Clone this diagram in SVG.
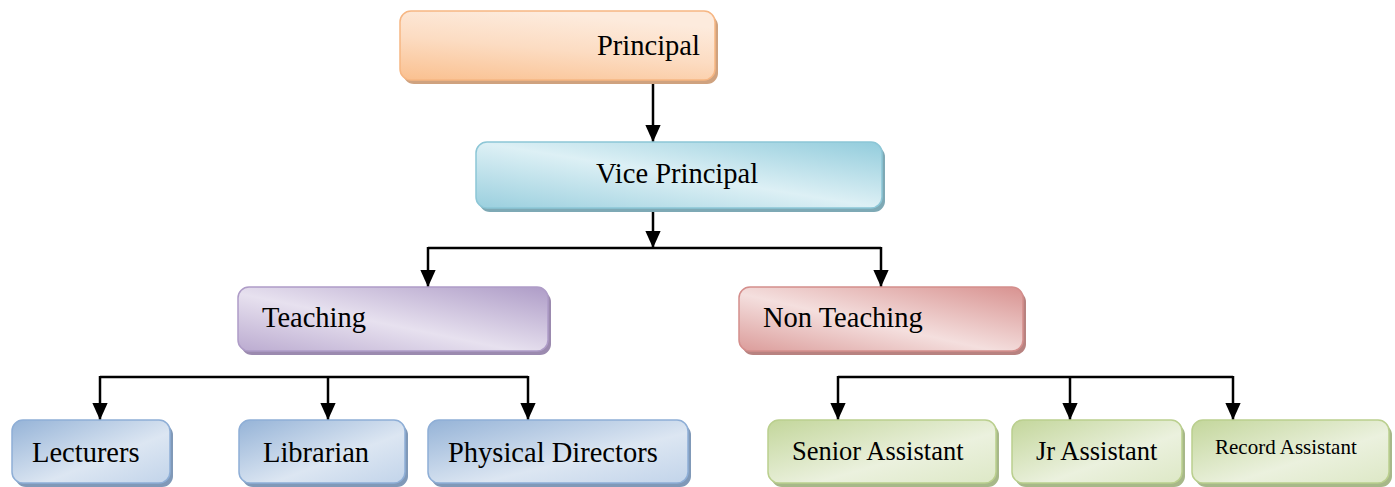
<svg xmlns="http://www.w3.org/2000/svg" width="1395" height="487" viewBox="0 0 1395 487">
  <style>
    text { font-family: "Liberation Serif", "Times New Roman", serif; fill: #000; }
    .lbl { font-size: 28.5px; }
    .sm { font-size: 26.5px; }
    .xs { font-size: 21px; }
    .conn { stroke: #000; stroke-width: 2.5; fill: none; }
    .box { stroke-width: 1.5; }
    .orange { fill: url(#gOrange); stroke: #F6B683; }
    .cyan { fill: url(#gCyan); stroke: #8CC6D6; }
    .purple { fill: url(#gPurple); stroke: #AE9CC7; }
    .red { fill: url(#gRed); stroke: #D48E8C; }
    .blue { fill: url(#gBlue); stroke: #8EAED6; }
    .green { fill: url(#gGreen); stroke: #BACF8E; }
  </style>
  <defs>
    <linearGradient id="gOrange" x1="0" y1="1" x2="0.4" y2="0">
      <stop offset="0" stop-color="#FAC08F"/>
      <stop offset="0.55" stop-color="#FCDCC2"/>
      <stop offset="1" stop-color="#FDEBDD"/>
    </linearGradient>
    <linearGradient id="gCyan" x1="0" y1="1" x2="1" y2="0">
      <stop offset="0" stop-color="#9ACFDE"/>
      <stop offset="0.5" stop-color="#DDF0F5"/>
      <stop offset="1" stop-color="#92CCDC"/>
    </linearGradient>
    <linearGradient id="gPurple" x1="0" y1="1" x2="1" y2="0">
      <stop offset="0" stop-color="#BBABD0"/>
      <stop offset="0.45" stop-color="#E7E1EF"/>
      <stop offset="1" stop-color="#AE9CC7"/>
    </linearGradient>
    <linearGradient id="gRed" x1="0" y1="1" x2="1" y2="0">
      <stop offset="0" stop-color="#DB9C9A"/>
      <stop offset="0.45" stop-color="#F4DFDE"/>
      <stop offset="1" stop-color="#D89290"/>
    </linearGradient>
    <linearGradient id="gBlue" x1="0" y1="0" x2="1" y2="1">
      <stop offset="0" stop-color="#95B3D7"/>
      <stop offset="0.6" stop-color="#DCE6F2"/>
      <stop offset="1" stop-color="#C2D4EA"/>
    </linearGradient>
    <linearGradient id="gGreen" x1="0" y1="0" x2="1" y2="1">
      <stop offset="0" stop-color="#C3D69B"/>
      <stop offset="0.6" stop-color="#EBF1DE"/>
      <stop offset="1" stop-color="#DDE8C6"/>
    </linearGradient>
    <marker id="arrow" viewBox="0 0 10 10" refX="10" refY="5" markerWidth="17" markerHeight="17" markerUnits="userSpaceOnUse" orient="auto">
      <path d="M0,0.5 L10,5 L0,9.5 z" fill="#000"/>
    </marker>
  </defs>

  <!-- connectors: trunk lines and branch drops -->
  <g id="connectors">
    <line class="conn" x1="653" y1="80" x2="653" y2="142" marker-end="url(#arrow)"/>
    <line class="conn" x1="653" y1="208" x2="653" y2="248" marker-end="url(#arrow)"/>

    <polyline class="conn" points="428,248 881,248"/>
    <line class="conn" x1="428" y1="247" x2="428" y2="287" marker-end="url(#arrow)"/>
    <line class="conn" x1="881" y1="247" x2="881" y2="287" marker-end="url(#arrow)"/>

    <polyline class="conn" points="100,377 528,377"/>
    <line class="conn" x1="100" y1="376" x2="100" y2="420" marker-end="url(#arrow)"/>
    <line class="conn" x1="328" y1="376" x2="328" y2="420" marker-end="url(#arrow)"/>
    <line class="conn" x1="528" y1="376" x2="528" y2="420" marker-end="url(#arrow)"/>

    <polyline class="conn" points="838,377 1233,377"/>
    <line class="conn" x1="838" y1="376" x2="838" y2="420" marker-end="url(#arrow)"/>
    <line class="conn" x1="1070" y1="376" x2="1070" y2="420" marker-end="url(#arrow)"/>
    <line class="conn" x1="1233" y1="376" x2="1233" y2="420" marker-end="url(#arrow)"/>
  </g>

  <g id="principal">
    <rect x="403" y="15" width="315" height="69" rx="11" fill="#CFA27F"/>
    <rect class="box orange" x="400" y="11" width="315" height="69" rx="11"/>
    <text class="lbl" x="597" y="55">Principal</text>
  </g>

  <g id="vice-principal">
    <rect x="479" y="146" width="406" height="66" rx="11" fill="#7EA9B5"/>
    <rect class="box cyan" x="476" y="142" width="406" height="66" rx="11"/>
    <text class="lbl" x="596" y="183">Vice Principal</text>
  </g>

  <g id="teaching">
    <rect x="241" y="291" width="310" height="64" rx="11" fill="#9B8AAF"/>
    <rect class="box purple" x="238" y="287" width="310" height="64" rx="11"/>
    <text class="lbl" x="262" y="327">Teaching</text>
  </g>

  <g id="non-teaching">
    <rect x="742" y="291" width="284" height="64" rx="11" fill="#B88280"/>
    <rect class="box red" x="739" y="287" width="284" height="64" rx="11"/>
    <text class="lbl" x="763" y="327">Non Teaching</text>
  </g>

  <g id="lecturers">
    <rect x="15" y="424" width="158" height="63" rx="11" fill="#8099B8"/>
    <rect class="box blue" x="12" y="420" width="158" height="63" rx="11"/>
    <text class="lbl" x="32" y="462">Lecturers</text>
  </g>

  <g id="librarian">
    <rect x="242" y="424" width="166" height="63" rx="11" fill="#8099B8"/>
    <rect class="box blue" x="239" y="420" width="166" height="63" rx="11"/>
    <text class="lbl" x="263" y="462">Librarian</text>
  </g>

  <g id="physical-directors">
    <rect x="431" y="424" width="260" height="63" rx="11" fill="#8099B8"/>
    <rect class="box blue" x="428" y="420" width="260" height="63" rx="11"/>
    <text class="lbl" x="448" y="462">Physical Directors</text>
  </g>

  <g id="senior-assistant">
    <rect x="771" y="424" width="228" height="63" rx="11" fill="#A7B889"/>
    <rect class="box green" x="768" y="420" width="228" height="63" rx="11"/>
    <text class="sm" x="792" y="460">Senior Assistant</text>
  </g>

  <g id="jr-assistant">
    <rect x="1015" y="424" width="170" height="63" rx="11" fill="#A7B889"/>
    <rect class="box green" x="1012" y="420" width="170" height="63" rx="11"/>
    <text class="sm" x="1036" y="460">Jr Assistant</text>
  </g>

  <g id="record-assistant">
    <rect x="1195" y="424" width="197" height="63" rx="11" fill="#A7B889"/>
    <rect class="box green" x="1192" y="420" width="197" height="63" rx="11"/>
    <text class="xs" x="1215" y="454">Record Assistant</text>
  </g>
</svg>
